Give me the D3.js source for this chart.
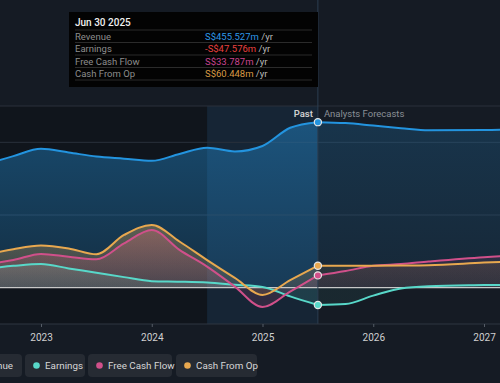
<!DOCTYPE html>
<html>
<head>
<meta charset="utf-8">
<script src="https://cdn.jsdelivr.net/npm/d3@7"></script>
<style>
  body { margin: 0; background: #151b24; }
  svg { display: block; font-family: Roboto, "Open Sans", sans-serif; }
</style>
</head>
<body>
<div id="chart"></div>
<script>
// past data (quarterly, S$ m)
const pastYears = [2022.5, 2022.75, 2023, 2023.25, 2023.5, 2023.75, 2024, 2024.25, 2024.5, 2024.75, 2025, 2025.25, 2025.5];
const revenue = [340, 362, 382, 372, 361, 355, 349, 368, 385, 375, 390, 440, 455.527];
const earnings = [52, 60, 65, 53, 41, 29, 18, 16.5, 14, 8, 2, -24, -47.576];
const freeCashFlow = [65, 76, 93, 85, 78, 122, 159, 104, 58, 3, -53, -11, 33.787];
const cashFromOp = [90, 106, 116, 108, 92, 145, 172.6, 127, 76, 27, -20, 21, 60.448];

// analyst forecasts
const foreYears = [2025.5, 2025.75, 2026, 2026.25, 2026.5, 2027, 2027.5];
const revenueF = [455.527, 453, 446, 439, 433, 434, 438];
const earningsF = [-47.576, -45, -22, -2, 4, 7, 9];
const freeCashFlowF = [33.787, 46, 60, 65, 72, 84, 90];
const cashFromOpF = [60.448, 60.5, 60.5, 61, 62, 69, 75];

const xTicks = [2023, 2024, 2025, 2026, 2027];
const yGrid = [500, 400, 200];

const series = [
  { name: "Revenue", color: "#2394df", past: revenue, fore: revenueF, fmt: "S$455.527m", valColor: "#2e97e8" },
  { name: "Earnings", color: "#58d8c9", past: earnings, fore: earningsF, fmt: "-S$47.576m", valColor: "#e8413f" },
  { name: "Free Cash Flow", color: "#d0508a", past: freeCashFlow, fore: freeCashFlowF, fmt: "S$33.787m", valColor: "#c9438f" },
  { name: "Cash From Op", color: "#e8a84f", past: cashFromOp, fore: cashFromOpF, fmt: "S$60.448m", valColor: "#d99a45" },
];

const W = 500, H = 383;
const x = d3.scaleLinear().domain([2023, 2027]).range([41, 484]);
const y = d3.scaleLinear().domain([-100, 500]).range([324, 106]);
const nowYear = 2025.5, highlightStart = 2024.5;

const svg = d3.select("#chart").append("svg").attr("width", W).attr("height", H);
svg.append("rect").attr("width", W).attr("height", H).attr("fill", "#151b24");

// regions: past darker, last year highlighted
svg.append("rect")
  .attr("x", 0).attr("y", y(500))
  .attr("width", x(highlightStart)).attr("height", y(-100) - y(500))
  .attr("fill", "#000").attr("fill-opacity", 0.2);
svg.append("rect")
  .attr("x", x(highlightStart)).attr("y", y(500))
  .attr("width", x(nowYear) - x(highlightStart)).attr("height", y(-100) - y(500))
  .attr("fill", "#1d70b5").attr("fill-opacity", 0.12);

// grid
svg.selectAll(".grid").data(yGrid).enter().append("line")
  .attr("x1", 0).attr("x2", W)
  .attr("y1", (d) => y(d)).attr("y2", (d) => y(d))
  .attr("stroke", "#2a313b").attr("stroke-width", 1);

// gradients
const defs = svg.append("defs");
series.forEach((s, i) => {
  const g = defs.append("linearGradient")
    .attr("id", "grad" + i)
    .attr("gradientUnits", "userSpaceOnUse")
    .attr("x1", 0).attr("x2", 0).attr("y1", y(i === 0 ? 460 : 170)).attr("y2", y(0));
  g.append("stop").attr("offset", 0).attr("stop-color", s.color).attr("stop-opacity", i === 0 ? 0.42 : 0.34);
  g.append("stop").attr("offset", 1).attr("stop-color", s.color).attr("stop-opacity", i === 0 ? 0.2 : 0.14);
});

const area = d3.area().curve(d3.curveMonotoneX)
  .x((d) => x(d[0])).y0(y(0)).y1((d) => y(d[1]));
const line = d3.line().curve(d3.curveMonotoneX)
  .x((d) => x(d[0])).y((d) => y(d[1]));

series.forEach((s, i) => {
  const p = pastYears.map((yr, j) => [yr, s.past[j]]);
  const f = foreYears.map((yr, j) => [yr, s.fore[j]]);
  svg.append("path").datum(p).attr("d", area).attr("fill", `url(#grad${i})`);
  svg.append("path").datum(f).attr("d", area).attr("fill", `url(#grad${i})`).attr("fill-opacity", 0.5);
});

// zero line
svg.append("line")
  .attr("x1", 0).attr("x2", W).attr("y1", y(0)).attr("y2", y(0))
  .attr("stroke", "#c8c8c8").attr("stroke-width", 1.2);

series.forEach((s) => {
  const p = pastYears.map((yr, j) => [yr, s.past[j]]);
  const f = foreYears.map((yr, j) => [yr, s.fore[j]]);
  svg.append("path").datum(p).attr("d", line)
    .attr("fill", "none").attr("stroke", s.color).attr("stroke-width", 2);
  svg.append("path").datum(f).attr("d", line)
    .attr("fill", "none").attr("stroke", s.color).attr("stroke-width", 2);
});

// now line
svg.append("line")
  .attr("x1", x(nowYear)).attr("x2", x(nowYear))
  .attr("y1", 0).attr("y2", y(-100))
  .attr("stroke", "#2c3e50").attr("stroke-width", 1);

// markers
series.forEach((s) => {
  svg.append("circle")
    .attr("cx", x(nowYear)).attr("cy", y(s.past[s.past.length - 1]))
    .attr("r", 3.6).attr("fill", s.color)
    .attr("stroke", "#e6e6e6").attr("stroke-width", 1.2);
});

// x axis
const axis = svg.append("g")
  .attr("transform", `translate(0,${y(-100)})`)
  .call(d3.axisBottom(x).tickValues(xTicks).tickFormat(d3.format("d")).tickSize(3));
axis.select(".domain").attr("stroke", "#2f3640").attr("d", `M0,0H${W}`);
axis.selectAll(".tick line").attr("stroke", "#555c66");
axis.selectAll(".tick text")
  .attr("fill", "#d0d0d0").attr("font-size", 10).attr("dy", "1.05em")
  .attr("font-family", "Roboto, sans-serif");

// past / forecast labels
svg.append("text").attr("x", x(nowYear) - 5).attr("y", 117)
  .attr("text-anchor", "end").attr("font-size", 9.5).attr("font-weight", 600)
  .attr("fill", "#d0d0d0").text("Past");
svg.append("text").attr("x", x(nowYear) + 6).attr("y", 117)
  .attr("font-size", 9.5).attr("fill", "#8a8f96").text("Analysts Forecasts");

// tooltip
const tip = svg.append("g");
tip.append("rect").attr("x", 69).attr("y", 12).attr("width", 249).attr("height", 75)
  .attr("fill", "#030303");
tip.append("text").attr("x", 75).attr("y", 25.5)
  .attr("font-size", 10).attr("font-weight", 500).attr("fill", "#f0f0f0").text("Jun 30 2025");
[30, 42.5, 55, 67.5, 80].forEach((ly) => {
  tip.append("line").attr("x1", 75).attr("x2", 312).attr("y1", ly).attr("y2", ly)
    .attr("stroke", "#2b2b2b").attr("stroke-width", 1);
});
series.forEach((s, i) => {
  const by = 39.5 + i * 12.5;
  tip.append("text").attr("x", 75).attr("y", by)
    .attr("font-size", 9.5).attr("fill", "#8d8d8d").text(s.name);
  const t = tip.append("text").attr("x", 205).attr("y", by).attr("font-size", 9.5);
  t.append("tspan").attr("fill", s.valColor).text(s.fmt);
  t.append("tspan").attr("fill", "#bbbbbb").text(" /yr");
});

// legend (first button runs off the left edge, as in the source)
const legendBoxes = [
  { x: -44, w: 66 },
  { x: 25, w: 60 },
  { x: 88, w: 84 },
  { x: 176, w: 81 },
];
series.forEach((s, i) => {
  const b = legendBoxes[i];
  const g = svg.append("g").attr("transform", `translate(${b.x},354)`);
  g.append("rect").attr("width", b.w).attr("height", 23).attr("rx", 4)
    .attr("fill", "#262b33");
  g.append("circle").attr("cx", 11.5).attr("cy", 11.5).attr("r", 3.3).attr("fill", s.color);
  g.append("text").attr("x", 20).attr("y", 15).attr("font-size", 9.8)
    .attr("fill", "#d6d6d6").text(s.name);
});
</script>
</body>
</html>
